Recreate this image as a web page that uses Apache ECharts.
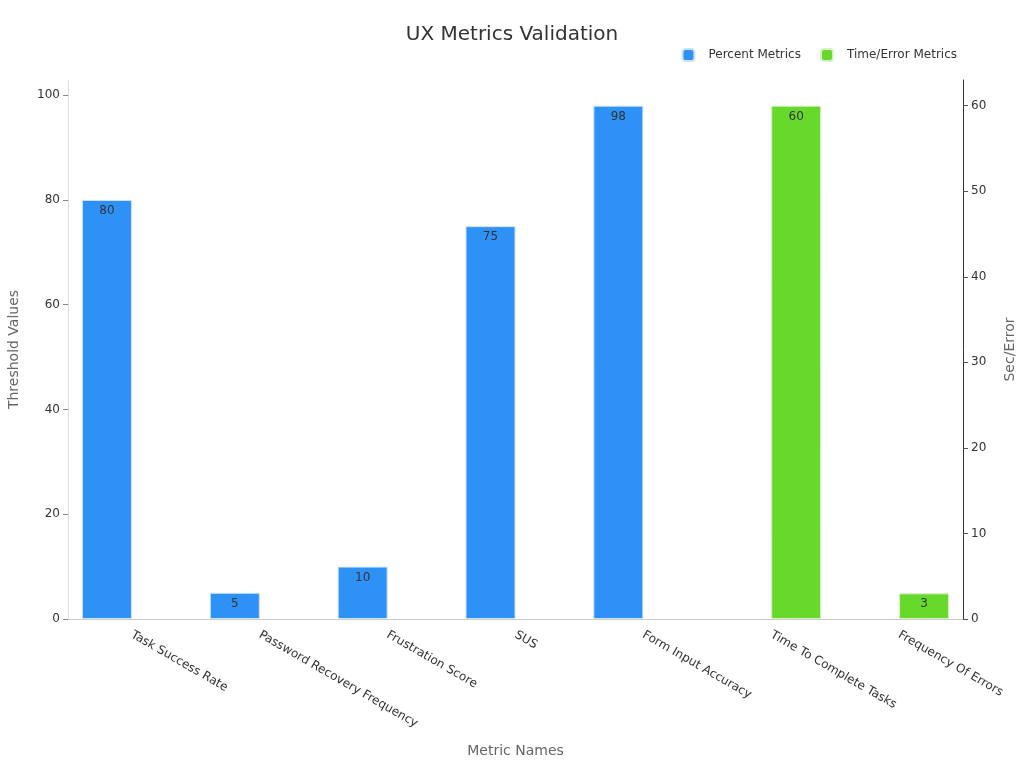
<!DOCTYPE html>
<html><head><meta charset="utf-8">
<script src="https://cdn.jsdelivr.net/npm/echarts@6/dist/echarts.min.js"></script>
<style>html,body{margin:0;padding:0;background:#fff}#c{width:1024px;height:768px}</style>
</head><body><div id="c"></div>
<script>
const categories = ['Task Success Rate','Password Recovery Frequency','Frustration Score','SUS','Form Input Accuracy','Time To Complete Tasks','Frequency Of Errors'];
const percentValues = [80, 5, 10, 75, 98, null, null];
const timeErrorValues = [null, null, null, null, null, 60, 3];
const leftTicks = {min: 0, interval: 20};
const rightTicks = {min: 0, interval: 10};

const chart = echarts.init(document.getElementById('c'));
const font = 'DejaVu Sans';
chart.setOption({
  textStyle: {fontFamily: font},
  title: {text: 'UX Metrics Validation', left: 'center', top: 20, textStyle: {fontFamily: font, fontSize: 20, fontWeight: 'normal', color: '#333'}},
  legend: {right: 62, top: 43, itemWidth: 12, itemHeight: 12, itemGap: 19, icon: 'roundRect',
    textStyle: {fontFamily: font, fontSize: 12, color: '#333', padding: [0,0,0,9]}},
  grid: {left: 68, right: 61, top: 80, bottom: 149, containLabel: false, outerBoundsMode: 'none'},
  xAxis: {type: 'category', data: categories, name: 'Metric Names', nameLocation: 'middle', nameGap: 125,
    nameTextStyle: {fontFamily: font, fontSize: 14, color: '#666'},
    axisLine: {lineStyle: {color: '#ccc'}}, axisTick: {alignWithLabel: true, lineStyle: {color: '#666'}},
    axisLabel: {rotate: -30, interval: 0, fontFamily: font, fontSize: 12, color: '#333', margin: 15}},
  yAxis: [
    {type: 'value', name: 'Threshold Values', nameLocation: 'middle', nameGap: 47, min: leftTicks.min, interval: leftTicks.interval,
      max: v => v.max * 1.05,
      nameTextStyle: {fontFamily: font, fontSize: 14, color: '#666'},
      axisLine: {show: true, lineStyle: {color: '#ddd'}}, axisTick: {show: true, lineStyle: {color: '#888'}},
      axisLabel: {fontFamily: font, fontSize: 12, color: '#333', showMaxLabel: false}, splitLine: {show: false}},
    {type: 'value', name: 'Sec/Error', nameLocation: 'middle', nameGap: 40, min: rightTicks.min, interval: rightTicks.interval,
      max: v => v.max * 1.05,
      nameTextStyle: {fontFamily: font, fontSize: 14, color: '#666'},
      axisLine: {show: true, lineStyle: {color: '#333'}}, axisTick: {show: true, lineStyle: {color: '#555'}},
      axisLabel: {fontFamily: font, fontSize: 12, color: '#333', showMaxLabel: false}, splitLine: {show: false}}
  ],
  series: [
    {name: 'Percent Metrics', type: 'bar', yAxisIndex: 0, data: percentValues, barWidth: 50, barGap: '0%',
      itemStyle: {color: '#2E91F6', borderColor: '#cfe2f7', borderWidth: 1},
      label: {show: true, position: 'insideTop', distance: 5, fontFamily: font, fontSize: 12, color: '#333'}},
    {name: 'Time/Error Metrics', type: 'bar', yAxisIndex: 1, data: timeErrorValues, barWidth: 50, barGap: '0%',
      itemStyle: {color: '#66D92A', borderColor: '#d6f2c8', borderWidth: 1},
      label: {show: true, position: 'insideTop', distance: 5, fontFamily: font, fontSize: 12, color: '#333'}}
  ]
});
</script></body></html>
